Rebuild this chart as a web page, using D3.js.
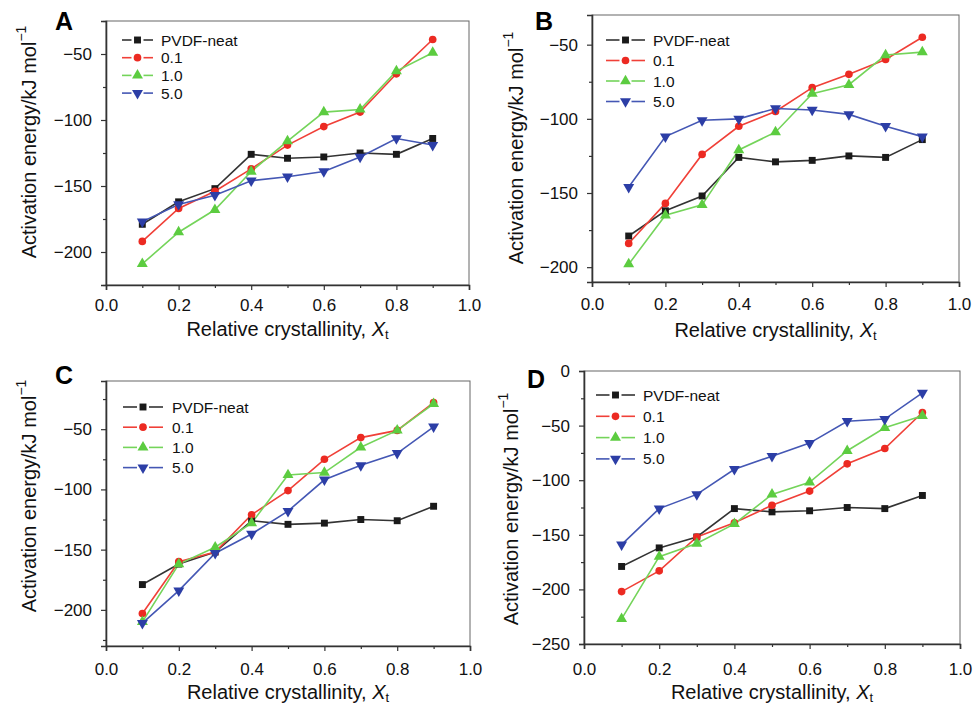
<!DOCTYPE html>
<meta charset="utf-8">
<style>
body { margin: 0; background: #fff; }
svg { font-family: "Liberation Sans", Arial, Helvetica, sans-serif; }
.tick text { font-size: 17px; fill: #111; }
.legend text { font-size: 15.5px; fill: #111; }
.title { font-size: 20px; fill: #111; }
.panel-label { font-size: 25px; font-weight: bold; fill: #000; }
</style>
<body>
<div id="chart"></div>
<script src="https://d3js.org/d3.v7.min.js"></script>
<script>

// x positions (relative crystallinity)
var xValues = [0.1, 0.2, 0.3, 0.4, 0.5, 0.6, 0.7, 0.8, 0.9];
var seriesNames = ["PVDF-neat", "0.1", "1.0", "5.0"];

// PVDF-neat is the same curve in every panel
var pvdfNeat = [-179, -162, -152, -126, -129, -128, -125, -126, -114];

// panel A
var a01 = [-192, -167, -154, -137, -119, -105, -94, -65, -39];
var a10 = [-209, -185, -168, -139, -116, -94, -92, -63, -49];
var a50 = [-177, -164, -157, -146, -143, -139, -128, -114, -119];

// panel B
var b01 = [-184, -157, -124, -105, -95, -79, -70, -60, -45];
var b10 = [-198, -165, -158, -121, -109, -83, -77, -57, -55];
var b50 = [-146, -112, -101, -100, -93, -94, -97, -105, -112];

// panel C
var c01 = [-203, -160, -152, -121, -101, -75, -57, -51, -28];
var c10 = [-210, -162, -148, -128, -88, -86, -65, -51, -29];
var c50 = [-211, -184, -153, -137, -118, -92, -80, -70, -48];

// panel D
var d01 = [-202, -183, -152, -139, -123, -110, -85, -71, -38];
var d10 = [-227, -170, -158, -140, -113, -102, -73, -52, -41];
var d50 = [-159, -126, -113, -90, -78, -66, -46, -44, -20];

// tick labels
var xTicks = [0, 0.2, 0.4, 0.6, 0.8, 1.0];
var xMinor = [0.1, 0.3, 0.5, 0.7, 0.9];
var yTicksABC = [-200, -150, -100, -50];
var yTicksD = [-250, -200, -150, -100, -50, 0];

var width = 973,
    height = 707;

var colors = ["#1a1a1a", "#ec2a22", "#5ccc40", "#2c3ea6"];
var lineColors = ["#333", "#f04038", "#74d45a", "#4457b4"];
var symbols = [d3.symbolSquare, d3.symbolCircle, d3.symbolTriangle, d3.symbolTriangle];
var symSize = [48, 46, 52, 52];
var symRot = [0, 0, 0, 180];

// layout of each panel (plot box in pixels)
var panels = [
  {label: "A", x0: 106, x1: 469, y0: 21, y1: 285, yDomain: [-225, -25], yTicks: yTicksABC,
   series: [pvdfNeat, a01, a10, a50],
   lab: [55, 30], yt: [29, 142], xtPad: 14, xtitleY: 336,
   leg: {x: 122, y: 40, len: 31, step: 17.7, tx: 161}},
  {label: "B", x0: 592, x1: 959, y0: 15, y1: 282, yDomain: [-210, -30], yTicks: yTicksABC,
   series: [pvdfNeat, b01, b10, b50],
   lab: [535, 30], yt: [516, 148], xtPad: 16, xtitleY: 337,
   leg: {x: 606, y: 40, len: 39, step: 20.5, tx: 653}},
  {label: "C", x0: 106, x1: 470, y0: 381, y1: 646, yDomain: [-230, -10], yTicks: yTicksABC,
   series: [pvdfNeat, c01, c10, c50],
   lab: [55, 384], yt: [29, 496], xtPad: 17, xtitleY: 699,
   leg: {x: 123, y: 407, len: 40, step: 20.2, tx: 172}},
  {label: "D", x0: 584, x1: 960, y0: 371, y1: 644, yDomain: [-250, 0], yTicks: yTicksD,
   series: [pvdfNeat, d01, d10, d50],
   lab: [527, 388], yt: [511, 509], xtPad: 19, xtitleY: 699,
   leg: {x: 596, y: 395, len: 39, step: 21.3, tx: 643}}
];

var svg = d3.select("#chart").append("svg")
    .attr("width", width)
    .attr("height", height);

svg.append("rect")
    .attr("width", width)
    .attr("height", height)
    .attr("fill", "#fff");

var fmt = d3.format("d");

function minorTicks(domain) {
  var out = [];
  for (var v = Math.ceil(domain[0] / 25) * 25; v <= domain[1]; v += 25) {
    if (v % 50 != 0) out.push(v);
  }
  return out;
}

function drawPanel(p) {
  var g = svg.append("g");

  var x = d3.scaleLinear().domain([0, 1]).range([p.x0, p.x1]);
  var y = d3.scaleLinear().domain(p.yDomain).range([p.y1, p.y0]);

  // frame: top/right lighter
  g.append("rect")
    .attr("x", p.x0)
    .attr("y", p.y0)
    .attr("width", p.x1 - p.x0)
    .attr("height", p.y1 - p.y0)
    .attr("fill", "none")
    .attr("stroke", "#666")
    .attr("stroke-width", 1);

  // y axis
  var yAx = g.append("g")
    .attr("transform", "translate(" + p.x0 + ",0)")
    .call(d3.axisLeft(y).tickValues(p.yTicks).tickSize(5).tickPadding(9).tickFormat(fmt));
  var yMin = g.append("g")
    .attr("transform", "translate(" + p.x0 + ",0)")
    .call(d3.axisLeft(y).tickValues(minorTicks(p.yDomain)).tickSize(3).tickFormat(""));
  yMin.select(".domain").remove();

  // x axis
  var xAx = g.append("g")
    .attr("transform", "translate(0," + p.y1 + ")")
    .call(d3.axisBottom(x).tickValues(xTicks).tickSize(5).tickPadding(p.xtPad - 5).tickFormat(d3.format(".1f")));
  var xMin = g.append("g")
    .attr("transform", "translate(0," + p.y1 + ")")
    .call(d3.axisBottom(x).tickValues(xMinor).tickSize(3).tickFormat(""));
  xMin.select(".domain").remove();

  [yAx, xAx, yMin, xMin].forEach(function(a) {
    a.attr("font-family", null).attr("font-size", null);
    a.selectAll("line").attr("stroke", "#333").attr("stroke-width", 1.2);
    a.selectAll(".domain").attr("stroke", "#333").attr("stroke-width", 1.6);
  });

  // series
  var line = d3.line()
    .x(function(d, i) { return x(xValues[i]); })
    .y(function(d) { return y(d); });

  p.series.forEach(function(vals, si) {
    g.append("path")
      .datum(vals)
      .attr("fill", "none")
      .attr("stroke", lineColors[si])
      .attr("stroke-width", 1.6)
      .attr("d", line);
  });
  p.series.forEach(function(vals, si) {
    g.selectAll(".m" + si)
      .data(vals)
      .enter()
      .append("path")
      .attr("class", "m" + si)
      .attr("d", d3.symbol().type(symbols[si]).size(symSize[si]))
      .attr("fill", colors[si])
      .attr("transform", function(d, i) {
        return "translate(" + x(xValues[i]) + "," + y(d) + ") rotate(" + symRot[si] + ")";
      });
  });

  // legend
  var lg = g.append("g").attr("class", "legend");
  seriesNames.forEach(function(name, si) {
    var ly = p.leg.y + si * p.leg.step;
    var mid = p.leg.x + p.leg.len / 2;
    lg.append("line")
      .attr("x1", p.leg.x).attr("x2", mid - 6)
      .attr("y1", ly).attr("y2", ly)
      .attr("stroke", lineColors[si]).attr("stroke-width", 1.6);
    lg.append("line")
      .attr("x1", mid + 6).attr("x2", p.leg.x + p.leg.len)
      .attr("y1", ly).attr("y2", ly)
      .attr("stroke", lineColors[si]).attr("stroke-width", 1.6);
    lg.append("path")
      .attr("d", d3.symbol().type(symbols[si]).size(symSize[si]))
      .attr("fill", colors[si])
      .attr("transform", "translate(" + mid + "," + ly + ") rotate(" + symRot[si] + ")");
    lg.append("text")
      .attr("x", p.leg.tx)
      .attr("y", ly)
      .attr("dy", "0.36em")
      .text(name);
  });

  // panel label
  g.append("text")
    .attr("class", "panel-label")
    .attr("x", p.lab[0])
    .attr("y", p.lab[1])
    .text(p.label);

  // y title
  var yt = g.append("text")
    .attr("class", "title")
    .attr("text-anchor", "middle")
    .attr("transform", "translate(" + p.yt[0] + "," + p.yt[1] + ") rotate(-90)")
    .attr("dy", "0.36em");
  yt.append("tspan").text("Activation energy/kJ mol");
  yt.append("tspan").attr("font-size", "14px").attr("dy", "-0.75em").text("\u22121");

  // x title
  var xt = g.append("text")
    .attr("class", "title")
    .attr("text-anchor", "middle")
    .attr("x", (p.x0 + p.x1) / 2)
    .attr("y", p.xtitleY);
  xt.append("tspan").text("Relative crystallinity, ");
  xt.append("tspan").attr("font-style", "italic").text("X");
  xt.append("tspan").attr("font-size", "13px").attr("dy", "0.25em").text("t");
}

panels.forEach(drawPanel);

</script>
</body>
